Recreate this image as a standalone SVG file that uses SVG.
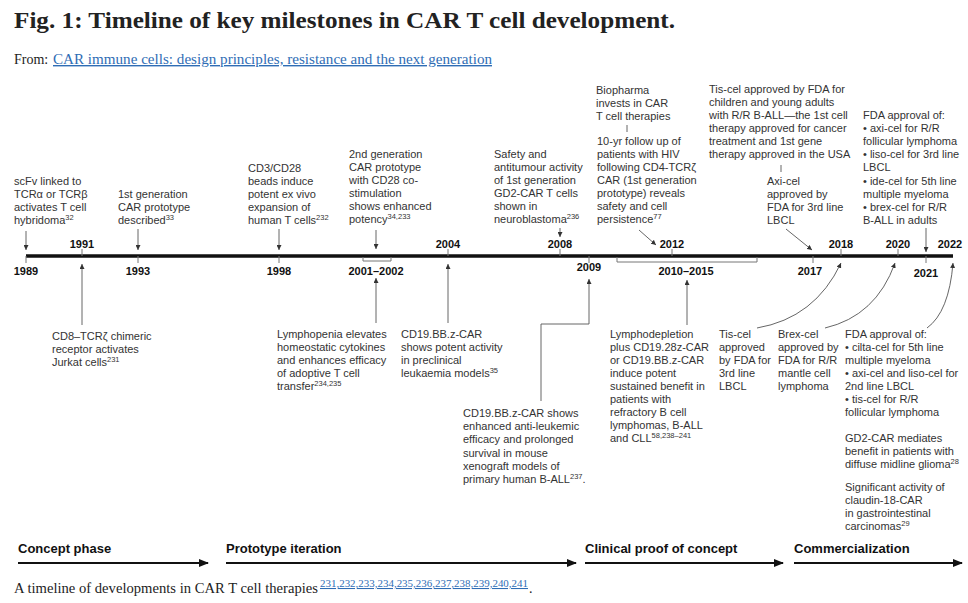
<svg xmlns="http://www.w3.org/2000/svg" width="968" height="603" viewBox="0 0 968 603">
<style>
.t{font-family:"Liberation Sans",Arial,sans-serif;font-size:11px;fill:#333}
.s{font-size:7.5px}
.yr{font-family:"Liberation Sans",Arial,sans-serif;font-size:11px;font-weight:bold;fill:#111;text-anchor:middle}
.ph{font-family:"Liberation Sans",Arial,sans-serif;font-size:13px;font-weight:bold;fill:#111}
.serif{font-family:"Liberation Serif","Times New Roman",serif;fill:#222}
.lnk{fill:#2f6db5;text-decoration:underline}
.c{fill:none;stroke:#555;stroke-width:0.9}
.tk{stroke:#777;stroke-width:1;fill:none}
.pa{stroke:#111;stroke-width:2;fill:none}
</style>
<defs>
<marker id="ah" markerUnits="userSpaceOnUse" markerWidth="5" markerHeight="5" refX="5" refY="2.5" orient="auto"><path d="M0,0 L5,2.5 L0,5 z" fill="#333"/></marker>
<marker id="pah" markerUnits="userSpaceOnUse" markerWidth="10" markerHeight="8" refX="9" refY="4" orient="auto"><path d="M0,0 L10,4 L0,8 z" fill="#111"/></marker>
</defs>
<rect width="968" height="603" fill="#fff"/>

<g id="header">
<text class="serif" x="14" y="28" font-size="24" font-weight="bold" textLength="661" lengthAdjust="spacingAndGlyphs">Fig. 1: Timeline of key milestones in CAR T cell development.</text>
<text class="serif" x="14" y="64" font-size="14">From: <tspan class="lnk" x="53" textLength="439" lengthAdjust="spacingAndGlyphs">CAR immune cells: design principles, resistance and the next generation</tspan></text>
</g>

<g id="timeline">
<line x1="26" y1="256" x2="953" y2="256" stroke="#111" stroke-width="3.5"/>
<path class="tk" d="M26,256V263 M138,256V263 M279,256V263 M589,256V263 M813,256V263 M926,256V263 M82,256V249 M448,256V249 M560,256V249 M672,256V249 M841,256V249 M898,256V249 M363,257V261H391V257 M617,257V262H757V257"/>
<text class="yr" x="26" y="275">1989</text>
<text class="yr" x="82" y="248">1991</text>
<text class="yr" x="138" y="275">1993</text>
<text class="yr" x="279" y="275">1998</text>
<text class="yr" x="376" y="275">2001–2002</text>
<text class="yr" x="448" y="248">2004</text>
<text class="yr" x="560" y="248">2008</text>
<text class="yr" x="589" y="271">2009</text>
<text class="yr" x="672" y="248">2012</text>
<text class="yr" x="686" y="275">2010–2015</text>
<text class="yr" x="810" y="275">2017</text>
<text class="yr" x="841" y="248">2018</text>
<text class="yr" x="898" y="248">2020</text>
<text class="yr" x="926" y="277">2021</text>
<text class="yr" x="950" y="248">2022</text>
</g>

<g id="connectors">
<path class="c" d="M26,231V250" marker-end="url(#ah)"/>
<path class="c" d="M138,229V250" marker-end="url(#ah)"/>
<path class="c" d="M279,229V250" marker-end="url(#ah)"/>
<path class="c" d="M376,230V249" marker-end="url(#ah)"/>
<path class="c" d="M560,228V237" marker-end="url(#ah)"/>
<path class="c" d="M627,125V132"/>
<path class="c" d="M639,230L656,245" marker-end="url(#ah)"/>
<path class="c" d="M781,165V172"/>
<path class="c" d="M786,229L812,250" marker-end="url(#ah)"/>
<path class="c" d="M926,228V252" marker-end="url(#ah)"/>
<path class="c" d="M82,325V264" marker-end="url(#ah)"/>
<path class="c" d="M376,323V278" marker-end="url(#ah)"/>
<path class="c" d="M448,323V264" marker-end="url(#ah)"/>
<path class="c" d="M541,401V324H589V279" marker-end="url(#ah)"/>
<path class="c" d="M687,325V280" marker-end="url(#ah)"/>
<path class="c" d="M757,328Q815,318 841,263" marker-end="url(#ah)"/>
<path class="c" d="M825,328Q876,316 895,263" marker-end="url(#ah)"/>
<path class="c" d="M927,328Q949,312 953,263" marker-end="url(#ah)"/>
</g>

<g id="n1989">
<text class="t"><tspan x="14" y="185">scFv linked to</tspan><tspan x="14" y="198">TCRα or TCRβ</tspan><tspan x="14" y="211">activates T cell</tspan><tspan x="14" y="224">hybridoma<tspan class="s" dy="-4">32</tspan></tspan></text>
</g>
<g id="n1991">
<text class="t"><tspan x="52" y="340">CD8–TCRζ chimeric</tspan><tspan x="52" y="353">receptor activates</tspan><tspan x="52" y="366">Jurkat cells<tspan class="s" dy="-4">231</tspan></tspan></text>
</g>
<g id="n1993">
<text class="t"><tspan x="118" y="198">1st generation</tspan><tspan x="118" y="211">CAR prototype</tspan><tspan x="118" y="224">described<tspan class="s" dy="-4">33</tspan></tspan></text>
</g>
<g id="n1998">
<text class="t"><tspan x="248" y="172">CD3/CD28</tspan><tspan x="248" y="185">beads induce</tspan><tspan x="248" y="198">potent ex vivo</tspan><tspan x="248" y="211">expansion of</tspan><tspan x="248" y="224">human T cells<tspan class="s" dy="-4">232</tspan></tspan></text>
</g>
<g id="n2001a">
<text class="t"><tspan x="349" y="158">2nd generation</tspan><tspan x="349" y="171">CAR prototype</tspan><tspan x="349" y="184">with CD28 co-</tspan><tspan x="349" y="197">stimulation</tspan><tspan x="349" y="210">shows enhanced</tspan><tspan x="349" y="223">potency<tspan class="s" dy="-4">34,233</tspan></tspan></text>
</g>
<g id="n2001b">
<text class="t"><tspan x="277" y="338">Lymphopenia elevates</tspan><tspan x="277" y="351">homeostatic cytokines</tspan><tspan x="277" y="364">and enhances efficacy</tspan><tspan x="277" y="377">of adoptive T cell</tspan><tspan x="277" y="390">transfer<tspan class="s" dy="-4">234,235</tspan></tspan></text>
</g>
<g id="n2004">
<text class="t"><tspan x="401" y="338">CD19.BB.z-CAR</tspan><tspan x="401" y="351">shows potent activity</tspan><tspan x="401" y="364">in preclinical</tspan><tspan x="401" y="377">leukaemia models<tspan class="s" dy="-4">35</tspan></tspan></text>
</g>
<g id="n2008">
<text class="t"><tspan x="494" y="158">Safety and</tspan><tspan x="494" y="171">antitumour activity</tspan><tspan x="494" y="184">of 1st generation</tspan><tspan x="494" y="197">GD2-CAR T cells</tspan><tspan x="494" y="210">shown in</tspan><tspan x="494" y="223">neuroblastoma<tspan class="s" dy="-4">236</tspan></tspan></text>
</g>
<g id="n2009">
<text class="t"><tspan x="463" y="417">CD19.BB.z-CAR shows</tspan><tspan x="463" y="430">enhanced anti-leukemic</tspan><tspan x="463" y="443">efficacy and prolonged</tspan><tspan x="463" y="457">survival in mouse</tspan><tspan x="463" y="470">xenograft models of</tspan><tspan x="463" y="483">primary human B-ALL<tspan class="s" dy="-4">237</tspan><tspan dy="4">.</tspan></tspan></text>
</g>
<g id="n2012">
<text class="t"><tspan x="596" y="94">Biopharma</tspan><tspan x="596" y="107">invests in CAR</tspan><tspan x="596" y="120">T cell therapies</tspan></text>
<text class="t"><tspan x="597" y="145">10-yr follow up of</tspan><tspan x="597" y="158">patients with HIV</tspan><tspan x="597" y="171">following CD4-TCRζ</tspan><tspan x="597" y="184">CAR (1st generation</tspan><tspan x="597" y="197">prototype) reveals</tspan><tspan x="597" y="210">safety and cell</tspan><tspan x="597" y="223">persistence<tspan class="s" dy="-4">77</tspan></tspan></text>
</g>
<g id="n2010">
<text class="t"><tspan x="610" y="338">Lymphodepletion</tspan><tspan x="610" y="351">plus CD19.28z-CAR</tspan><tspan x="610" y="364">or CD19.BB.z-CAR</tspan><tspan x="610" y="377">induce potent</tspan><tspan x="610" y="390">sustained benefit in</tspan><tspan x="610" y="403">patients with</tspan><tspan x="610" y="416">refractory B cell</tspan><tspan x="610" y="429">lymphomas, B-ALL</tspan><tspan x="610" y="442">and CLL<tspan class="s" dy="-4">58,238–241</tspan></tspan></text>
</g>
<g id="n2017">
<text class="t"><tspan x="709" y="93">Tis-cel approved by FDA for</tspan><tspan x="709" y="106">children and young adults</tspan><tspan x="709" y="119">with R/R B-ALL—the 1st cell</tspan><tspan x="709" y="132">therapy approved for cancer</tspan><tspan x="709" y="145">treatment and 1st gene</tspan><tspan x="709" y="158">therapy approved in the USA</tspan></text>
<text class="t"><tspan x="767" y="185">Axi-cel</tspan><tspan x="767" y="198">approved by</tspan><tspan x="767" y="211">FDA for 3rd line</tspan><tspan x="767" y="224">LBCL</tspan></text>
</g>
<g id="n2018">
<text class="t"><tspan x="719" y="338">Tis-cel</tspan><tspan x="719" y="351">approved</tspan><tspan x="719" y="364">by FDA for</tspan><tspan x="719" y="377">3rd line</tspan><tspan x="719" y="390">LBCL</tspan></text>
</g>
<g id="n2020">
<text class="t"><tspan x="778" y="338">Brex-cel</tspan><tspan x="778" y="351">approved by</tspan><tspan x="778" y="364">FDA for R/R</tspan><tspan x="778" y="377">mantle cell</tspan><tspan x="778" y="390">lymphoma</tspan></text>
</g>
<g id="n2021">
<text class="t"><tspan x="863" y="119">FDA approval of:</tspan><tspan x="863" y="132">• axi-cel for R/R</tspan><tspan x="863" y="145">follicular lymphoma</tspan><tspan x="863" y="158">• liso-cel for 3rd line</tspan><tspan x="863" y="171">LBCL</tspan><tspan x="863" y="185">• ide-cel for 5th line</tspan><tspan x="863" y="198">multiple myeloma</tspan><tspan x="863" y="211">• brex-cel for R/R</tspan><tspan x="863" y="224">B-ALL in adults</tspan></text>
</g>
<g id="n2022">
<text class="t"><tspan x="845" y="338">FDA approval of:</tspan><tspan x="845" y="351">• cilta-cel for 5th line</tspan><tspan x="845" y="364">multiple myeloma</tspan><tspan x="845" y="377">• axi-cel and liso-cel for</tspan><tspan x="845" y="390">2nd line LBCL</tspan><tspan x="845" y="403">• tis-cel for R/R</tspan><tspan x="845" y="416">follicular lymphoma</tspan></text>
<text class="t"><tspan x="845" y="442">GD2-CAR mediates</tspan><tspan x="845" y="455">benefit in patients with</tspan><tspan x="845" y="468">diffuse midline glioma<tspan class="s" dy="-4">28</tspan></tspan></text>
<text class="t"><tspan x="845" y="491">Significant activity of</tspan><tspan x="845" y="504">claudin-18-CAR</tspan><tspan x="845" y="517">in gastrointestinal</tspan><tspan x="845" y="530">carcinomas<tspan class="s" dy="-4">29</tspan></tspan></text>
</g>

<g id="phases">
<text class="ph" x="18" y="553">Concept phase</text>
<path class="pa" d="M18,563H208" marker-end="url(#pah)"/>
<text class="ph" x="226" y="553">Prototype iteration</text>
<path class="pa" d="M226,563H576" marker-end="url(#pah)"/>
<text class="ph" x="585" y="553">Clinical proof of concept</text>
<path class="pa" d="M585,563H783" marker-end="url(#pah)"/>
<text class="ph" x="794" y="553">Commercialization</text>
<path class="pa" d="M794,563H962" marker-end="url(#pah)"/>
</g>

<g id="caption">
<text class="serif" x="14" y="593" font-size="14" textLength="304" lengthAdjust="spacingAndGlyphs">A timeline of developments in CAR T cell therapies</text>
<text class="serif lnk" x="320" y="587" font-size="10.5" textLength="208" lengthAdjust="spacingAndGlyphs">231,232,233,234,235,236,237,238,239,240,241</text>
<text class="serif" x="529" y="593" font-size="14">.</text>
</g>
</svg>
